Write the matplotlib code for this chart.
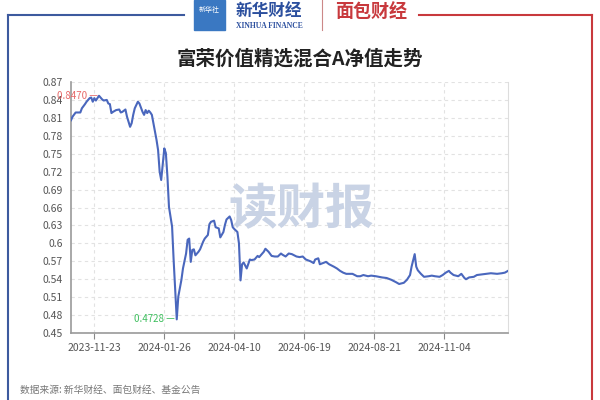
import numpy as np
import matplotlib
matplotlib.use("Agg")
import matplotlib.pyplot as plt
from matplotlib.lines import Line2D
from matplotlib.patches import Rectangle

plt.rcParams['font.family'] = ['Noto Sans CJK SC', 'DejaVu Sans']

# === Data (trading-day index, net value) ===
day_idx = [0, 1, 3, 6, 7, 9, 10, 12, 13, 14, 15, 16, 18, 20, 21, 23, 24, 25, 26, 27,
           29, 31, 32, 33, 35, 36, 38, 39, 40, 41, 43, 44, 46, 47, 48, 49, 50, 51, 52, 53,
           55, 56, 57, 58, 59, 60, 61, 62, 63, 65, 66, 67, 68, 69, 71, 72, 74, 75, 76, 77,
           78, 79, 80, 82, 83, 85, 86, 88, 89, 90, 92, 93, 95, 96, 98, 99, 100, 102, 103, 104,
           105, 107, 108, 109, 110, 111, 113, 115, 116, 118, 120, 121, 124, 125, 127, 129, 131, 133, 135, 136,
           138, 140, 142, 145, 147, 149, 151, 154, 156, 157, 159, 160, 162, 164, 166, 169, 171, 173, 175, 177,
           179, 181, 184, 186, 188, 191, 193, 196, 200, 203, 206, 209, 211, 214, 216, 218, 219, 221, 222, 223,
           225, 227, 230, 232, 234, 237, 239, 241, 243, 244, 246, 249, 251, 253, 254, 256, 259, 261, 264, 267,
           270, 274, 277, 279, 281]
nav = [0.806, 0.812, 0.819, 0.819, 0.826, 0.833, 0.837, 0.843, 0.844, 0.837, 0.843, 0.839, 0.847, 0.841, 0.839, 0.840, 0.834, 0.833, 0.818, 0.820,
       0.823, 0.824, 0.819, 0.820, 0.824, 0.812, 0.795, 0.801, 0.815, 0.826, 0.837, 0.834, 0.820, 0.815, 0.823, 0.818, 0.822, 0.819, 0.815, 0.801,
       0.773, 0.756, 0.720, 0.706, 0.733, 0.759, 0.751, 0.712, 0.661, 0.628, 0.572, 0.522, 0.4728, 0.511, 0.539, 0.558, 0.583, 0.606, 0.608, 0.569,
       0.589, 0.590, 0.580, 0.586, 0.590, 0.603, 0.608, 0.614, 0.632, 0.636, 0.638, 0.627, 0.625, 0.610, 0.619, 0.631, 0.640, 0.645, 0.639, 0.627,
       0.624, 0.619, 0.600, 0.538, 0.565, 0.568, 0.558, 0.573, 0.572, 0.573, 0.579, 0.577, 0.586, 0.591, 0.586, 0.579, 0.578, 0.578, 0.583, 0.581,
       0.578, 0.583, 0.582, 0.578, 0.577, 0.578, 0.573, 0.570, 0.567, 0.573, 0.575, 0.565, 0.567, 0.569, 0.565, 0.561, 0.558, 0.554, 0.551, 0.549,
       0.549, 0.549, 0.545, 0.545, 0.547, 0.545, 0.546, 0.545, 0.543, 0.542, 0.539, 0.535, 0.532, 0.534, 0.539, 0.547, 0.561, 0.582, 0.561, 0.555,
       0.549, 0.544, 0.545, 0.546, 0.545, 0.544, 0.547, 0.551, 0.554, 0.551, 0.547, 0.545, 0.549, 0.542, 0.540, 0.543, 0.544, 0.547, 0.548, 0.549,
       0.550, 0.549, 0.550, 0.551, 0.554]

x_tick_idx = [15, 60, 105, 150, 195, 240]
x_tick_labels = ['2023-11-23', '2024-01-26', '2024-04-10', '2024-06-19', '2024-08-21', '2024-11-04']
max_label = '0.8470'
min_label = '0.4728'

title = '富荣价值精选混合A净值走势'
source = '数据来源: 新华财经、面包财经、基金公告'

fig = plt.figure(figsize=(6, 4), dpi=100)
ax = fig.add_axes([71 / 600, 1 - 333 / 400, 437 / 600, 251 / 400])

# watermark
fig.text(0.503, 0.475, '读财报', fontsize=35, fontweight='bold', color='#c9d3e5',
         ha='center', va='center', zorder=0)

ax.plot(day_idx, nav, color='#4a67bd', lw=1.5, zorder=3)
ax.set_xlim(0, 281)
ax.set_ylim(0.45, 0.87)
yt = np.round(np.arange(0.45, 0.8701, 0.03), 2)
ax.set_yticks(yt)
ax.set_yticklabels([f'{v:g}' for v in yt])
ax.set_xticks(x_tick_idx)
ax.set_xticklabels(x_tick_labels)
ax.tick_params(axis='y', length=0, labelsize=7.5, colors='#555555', pad=6)
ax.tick_params(axis='x', length=4, labelsize=7.5, colors='#555555', color='#888888', pad=3)
ax.grid(True, ls=(0, (3, 3)), color='#e2e2e2', lw=0.8)
ax.set_axisbelow(True)
ax.patch.set_alpha(0)
ax.spines['top'].set_visible(False)
ax.spines['right'].set_color('#dddddd')
ax.spines['left'].set_color('#999999')
ax.spines['bottom'].set_color('#999999')
ax.spines['left'].set_linewidth(1.2)
ax.spines['bottom'].set_linewidth(1.2)

# max / min annotations
i_max = int(np.argmax(nav))
i_min = int(np.argmin(nav))
ax.annotate(max_label + ' —', (day_idx[i_max], nav[i_max]), xytext=(-1, 0),
            textcoords='offset points', ha='right', va='center', fontsize=7, color='#e76a6a')
ax.annotate(min_label + ' —', (day_idx[i_min], nav[i_min]), xytext=(-1, 0),
            textcoords='offset points', ha='right', va='center', fontsize=7, color='#3fbf5f')

# title and source
fig.text(0.5, 1 - 59 / 400, title, fontsize=14, fontweight='bold', color='#222222',
         ha='center', va='center')
fig.text(20 / 600, 1 - 390 / 400, source, fontsize=7, color='#777777', ha='left', va='center')

# frame lines
blue = '#3d5a9e'
red = '#c8393d'
fig.add_artist(Line2D([8 / 600, 8 / 600], [0, 1 - 15 / 400], color=blue, lw=1.5))
fig.add_artist(Line2D([8 / 600, 184 / 600], [1 - 15 / 400, 1 - 15 / 400], color=blue, lw=1.5))
fig.add_artist(Line2D([419 / 600, 592 / 600], [1 - 15 / 400, 1 - 15 / 400], color=red, lw=1.5))
fig.add_artist(Line2D([592 / 600, 592 / 600], [0, 1 - 15 / 400], color=red, lw=1.5))

# header logos
fig.add_artist(Rectangle((194 / 600, 1 - 30 / 400), 31 / 600, 30 / 400, color='#3a78c2'))
fig.text(209.5 / 600, 1 - 10 / 400, '新华社', fontsize=5, color='white', ha='center', va='center')
fig.text(269 / 600, 1 - 11 / 400, '新华财经', fontsize=12, color='#2b4f9e', ha='center',
         va='center', fontstyle='italic', fontweight='bold')
fig.text(269 / 600, 1 - 26 / 400, 'XINHUA FINANCE', fontsize=5.5, color='#2b4f9e', ha='center',
         va='center', family='Liberation Serif', fontweight='bold')
fig.add_artist(Line2D([322 / 600, 322 / 600], [1 - 30 / 400, 1], color='#cc8888', lw=0.8))
fig.text(371 / 600, 1 - 12 / 400, '面包财经', fontsize=13, color=red, ha='center',
         va='center', fontweight='bold')

fig.savefig('out.png', dpi=100)
